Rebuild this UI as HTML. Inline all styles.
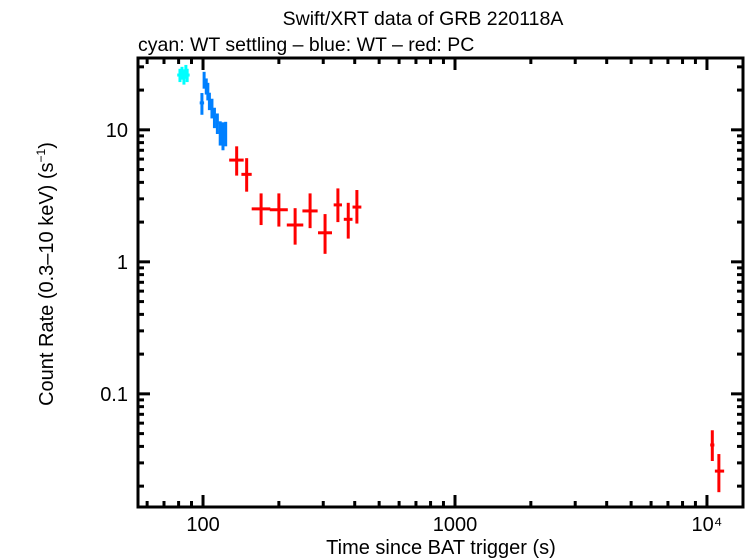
<!DOCTYPE html>
<html><head><meta charset="utf-8"><style>
body{margin:0;background:#fff;}
svg{display:block;font-family:"Liberation Sans",sans-serif;}
</style></head><body>
<svg id="chart" width="746" height="558" xmlns="http://www.w3.org/2000/svg">
<text x="423" y="25" font-size="19.5" text-anchor="middle">Swift/XRT data of GRB 220118A</text>
<text x="138" y="51" font-size="19.5">cyan: WT settling – blue: WT – red: PC</text>
<text x="441" y="554" font-size="20" text-anchor="middle">Time since BAT trigger (s)</text>
<text transform="translate(53,274) rotate(-90)" font-size="20" text-anchor="middle">Count Rate (0.3–10 keV) (s<tspan font-size="12" dy="-8">−1</tspan><tspan dy="8">)</tspan></text>
<g id="marks"></g>
<g id="axes"></g>
</svg>
<script>
// data
const cyanT=[81,82.5,84,85.5,86.5];
const cyanR=[26,27,25,28,26];
const cyanTerr=[2,2,2,2,2];
const cyanRerr=[3,3,3,3,3];
const blueT=[99,101,103,104.5,106,108.5,111,114,117,120,123];
const blueR=[16,24,21.5,19.7,16.6,14.7,12.5,11.3,9.6,9.2,9.5];
const blueTerr=[2,1,1,1,1.2,1.2,1.5,1.5,1.5,1.5,1.5];
const blueRerr=[3,3.5,3,3,2.5,2.5,2.2,2,2,2.2,2];
const redT=[136,149,170,200,232,266,305,343,377,408,10500,11150];
const redTlo=[127,142,156,184,215,248,286,330,362,392,10300,10750];
const redThi=[145,156,185,217,250,285,325,356,392,425,10700,11700];
const redR=[5.9,4.6,2.52,2.48,1.9,2.43,1.66,2.7,2.1,2.6,0.041,0.026];
const redRlo=[4.5,3.4,1.9,1.85,1.35,1.8,1.15,2.0,1.5,1.95,0.031,0.018];
const redRhi=[7.5,6.1,3.3,3.3,2.55,3.3,2.3,3.6,2.8,3.5,0.053,0.035];
const xTickVals=[100,1000,10000];
const xTickLabels=["100","1000","10⁴"];
const yTickVals=[10,1,0.1];
const yTickLabels=["10","1","0.1"];

const L=138,R=743,T=58,B=507;
const xmin=55.2,xmax=13900,ymin=0.0139,ymax=35;
const xs=v=>L+(Math.log10(v)-Math.log10(xmin))/(Math.log10(xmax)-Math.log10(xmin))*(R-L);
const ys=v=>B-(Math.log10(v)-Math.log10(ymin))/(Math.log10(ymax)-Math.log10(ymin))*(B-T);
const NS="http://www.w3.org/2000/svg";
const marks=document.getElementById('marks');
const axes=document.getElementById('axes');
function ln(g,x1,y1,x2,y2,c,w){const l=document.createElementNS(NS,'line');l.setAttribute('x1',x1);l.setAttribute('y1',y1);l.setAttribute('x2',x2);l.setAttribute('y2',y2);l.setAttribute('stroke',c);l.setAttribute('stroke-width',w);g.appendChild(l);return l;}
function pt(name,color,t,tl,th,r,rl,rh){
 const g=document.createElementNS(NS,'g');
 
 
 ln(g,xs(tl),ys(r),xs(th),ys(r),color,3);
 ln(g,xs(t),ys(rl),xs(t),ys(rh),color,3);
 marks.appendChild(g);
}
cyanT.forEach((t,i)=>pt('cyan-point',"#00ffff",t,t-cyanTerr[i],t+cyanTerr[i],cyanR[i],cyanR[i]-cyanRerr[i],cyanR[i]+cyanRerr[i]));
blueT.forEach((t,i)=>pt('blue-point',"#0080ff",t,t-blueTerr[i],t+blueTerr[i],blueR[i],blueR[i]-blueRerr[i],blueR[i]+blueRerr[i]));
redT.forEach((t,i)=>pt('red-point',"#ff0000",t,redTlo[i],redThi[i],redR[i],redRlo[i],redRhi[i]));

const fr=document.createElementNS(NS,'rect');
fr.setAttribute('x',L);fr.setAttribute('y',T);fr.setAttribute('width',R-L);fr.setAttribute('height',B-T);
fr.setAttribute('fill','none');fr.setAttribute('stroke','#000');fr.setAttribute('stroke-width',3);


axes.appendChild(fr);
for(let d=10;d<=10000;d*=10){for(let m=1;m<10;m++){const v=d*m;if(v<xmin||v>xmax)continue;const x=xs(v);const len=m===1?12:6;
 ln(axes,x,B,x,B-len,'#000',3);ln(axes,x,T,x,T+len,'#000',3);}}
xTickVals.forEach((v,i)=>{const t=document.createElementNS(NS,'text');t.setAttribute('x',xs(v));t.setAttribute('y',B+24);t.setAttribute('font-size','20');t.setAttribute('text-anchor','middle');t.textContent=xTickLabels[i];
 
 
 axes.appendChild(t);});
for(let d=0.01;d<=10;d*=10){for(let m=1;m<10;m++){const v=d*m;if(v<ymin||v>ymax)continue;const y=ys(v);const len=m===1?12:6;
 ln(axes,L,y,L+len,y,'#000',3);ln(axes,R,y,R-len,y,'#000',3);}}
yTickVals.forEach((v,i)=>{const t=document.createElementNS(NS,'text');t.setAttribute('x',L-10);t.setAttribute('y',ys(v)+7);t.setAttribute('font-size','20');t.setAttribute('text-anchor','end');t.textContent=yTickLabels[i];
 
 
 axes.appendChild(t);});
</script>
</body></html>
